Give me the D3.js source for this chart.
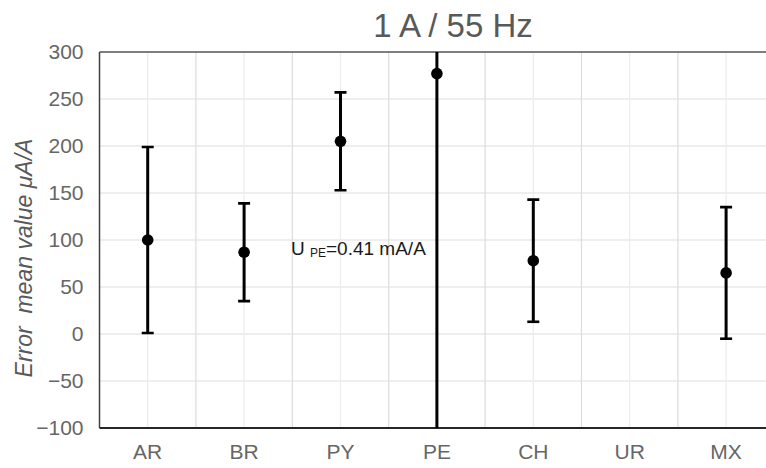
<!DOCTYPE html>
<html>
<head>
<meta charset="utf-8">
<script src="https://cdn.jsdelivr.net/npm/d3@7"></script>
<style>
  html, body { margin: 0; padding: 0; background: #fff; overflow: hidden; }
  svg { display: block; font-family: "Liberation Sans", Arial, sans-serif; }
</style>
</head>
<body>
<svg id="chart" width="766" height="468"></svg>
<script>
// Mean error per country (μA/A) and its expanded uncertainty (±)
const categories = ["AR", "BR", "PY", "PE", "CH", "UR", "MX"];
const meanValues = [100, 87, 205, 277, 78, null, 65];
const uncertainty = [99, 52, 52, 410, 65, null, 70];
const yTicks = [-100, -50, 0, 50, 100, 150, 200, 250, 300];
const titleText = "1 A / 55 Hz";
const yLabelText = "Error  mean value μA/A";

const svg = d3.select("#chart");
const plot = { left: 99.5, top: 52, bottom: 428, band: 96.4 };
plot.right = plot.left + plot.band * categories.length;

const x = d3.scaleBand().domain(categories).range([plot.left, plot.right]).padding(0);
const y = d3.scaleLinear().domain([-100, 300]).range([plot.bottom, plot.top]);

// Horizontal gridlines
svg.append("g").selectAll("line").data(yTicks).join("line")
  .attr("x1", plot.left).attr("x2", plot.right)
  .attr("y1", d => y(d)).attr("y2", d => y(d))
  .attr("stroke", "#dedede").attr("stroke-width", 1.2);

// Vertical gridlines: category centres (faint) and band boundaries
svg.append("g").selectAll("line").data(categories).join("line")
  .attr("x1", d => x(d) + x.bandwidth() / 2).attr("x2", d => x(d) + x.bandwidth() / 2)
  .attr("y1", plot.top).attr("y2", plot.bottom)
  .attr("stroke", "#ececec").attr("stroke-width", 1.2);
svg.append("g").selectAll("line").data(categories.slice(1)).join("line")
  .attr("x1", d => x(d)).attr("x2", d => x(d))
  .attr("y1", plot.top).attr("y2", plot.bottom)
  .attr("stroke", "#dcdcdc").attr("stroke-width", 1.2);

// Plot frame: top, left and bottom edges
svg.append("line").attr("x1", plot.left).attr("x2", plot.right)
  .attr("y1", plot.top).attr("y2", plot.top)
  .attr("stroke", "#595959").attr("stroke-width", 1.5);
svg.append("line").attr("x1", plot.left).attr("x2", plot.left)
  .attr("y1", plot.top).attr("y2", plot.bottom)
  .attr("stroke", "#404040").attr("stroke-width", 1.5);
svg.append("line").attr("x1", plot.left).attr("x2", plot.right)
  .attr("y1", plot.bottom).attr("y2", plot.bottom)
  .attr("stroke", "#262626").attr("stroke-width", 1.8);

// Axis labels
const yAxis = svg.append("g").attr("transform", `translate(${plot.left},0)`)
  .call(d3.axisLeft(y).tickValues(yTicks).tickSize(0).tickPadding(16));
yAxis.select(".domain").remove();
yAxis.selectAll("text").attr("font-size", 21).attr("fill", "#666")
  .attr("font-family", "Liberation Sans, Arial, sans-serif");

const xAxis = svg.append("g").attr("transform", `translate(0,${plot.bottom})`)
  .call(d3.axisBottom(x).tickSize(0).tickPadding(16));
xAxis.select(".domain").remove();
xAxis.selectAll("text").attr("font-size", 21).attr("fill", "#666")
  .attr("font-family", "Liberation Sans, Arial, sans-serif");

// Error bars and mean markers, clipped to the plot area
svg.append("clipPath").attr("id", "plotClip").append("rect")
  .attr("x", plot.left).attr("y", plot.top)
  .attr("width", plot.right - plot.left).attr("height", plot.bottom - plot.top);

const points = categories.map((c, i) => ({ c, v: meanValues[i], e: uncertainty[i] }))
  .filter(d => d.v !== null);

const marks = svg.append("g").attr("clip-path", "url(#plotClip)");
const cx = d => x(d.c) + x.bandwidth() / 2;
const capHalf = 6;

marks.selectAll(".bar").data(points).join("line").attr("class", "bar")
  .attr("x1", cx).attr("x2", cx)
  .attr("y1", d => y(d.v + d.e)).attr("y2", d => y(d.v - d.e))
  .attr("stroke", "#000").attr("stroke-width", 3);
marks.selectAll(".capTop").data(points).join("line").attr("class", "capTop")
  .attr("x1", d => cx(d) - capHalf).attr("x2", d => cx(d) + capHalf)
  .attr("y1", d => y(d.v + d.e)).attr("y2", d => y(d.v + d.e))
  .attr("stroke", "#000").attr("stroke-width", 2.6);
marks.selectAll(".capBot").data(points).join("line").attr("class", "capBot")
  .attr("x1", d => cx(d) - capHalf).attr("x2", d => cx(d) + capHalf)
  .attr("y1", d => y(d.v - d.e)).attr("y2", d => y(d.v - d.e))
  .attr("stroke", "#000").attr("stroke-width", 2.6);
marks.selectAll(".dot").data(points).join("circle").attr("class", "dot")
  .attr("cx", cx).attr("cy", d => y(d.v)).attr("r", 5.8).attr("fill", "#000");

// Uncertainty note for PE
const note = svg.append("text").attr("x", 291).attr("y", 255)
  .attr("font-size", 19).attr("fill", "#1a1a1a");
note.append("tspan").text("U ");
note.append("tspan").attr("font-size", 12).attr("dy", 2).text("PE");
note.append("tspan").attr("dy", -2).text("=0.41 mA/A");

// Title
svg.append("text").attr("x", 453).attr("y", 37).attr("text-anchor", "middle")
  .attr("font-size", 33).attr("fill", "#595959").text(titleText);

// Y axis title
svg.append("text").attr("transform", "translate(32,258) rotate(-90)")
  .attr("text-anchor", "middle").attr("font-size", 23).attr("font-style", "italic")
  .style("white-space", "pre")
  .attr("fill", "#595959").text(yLabelText);
</script>
</body>
</html>
